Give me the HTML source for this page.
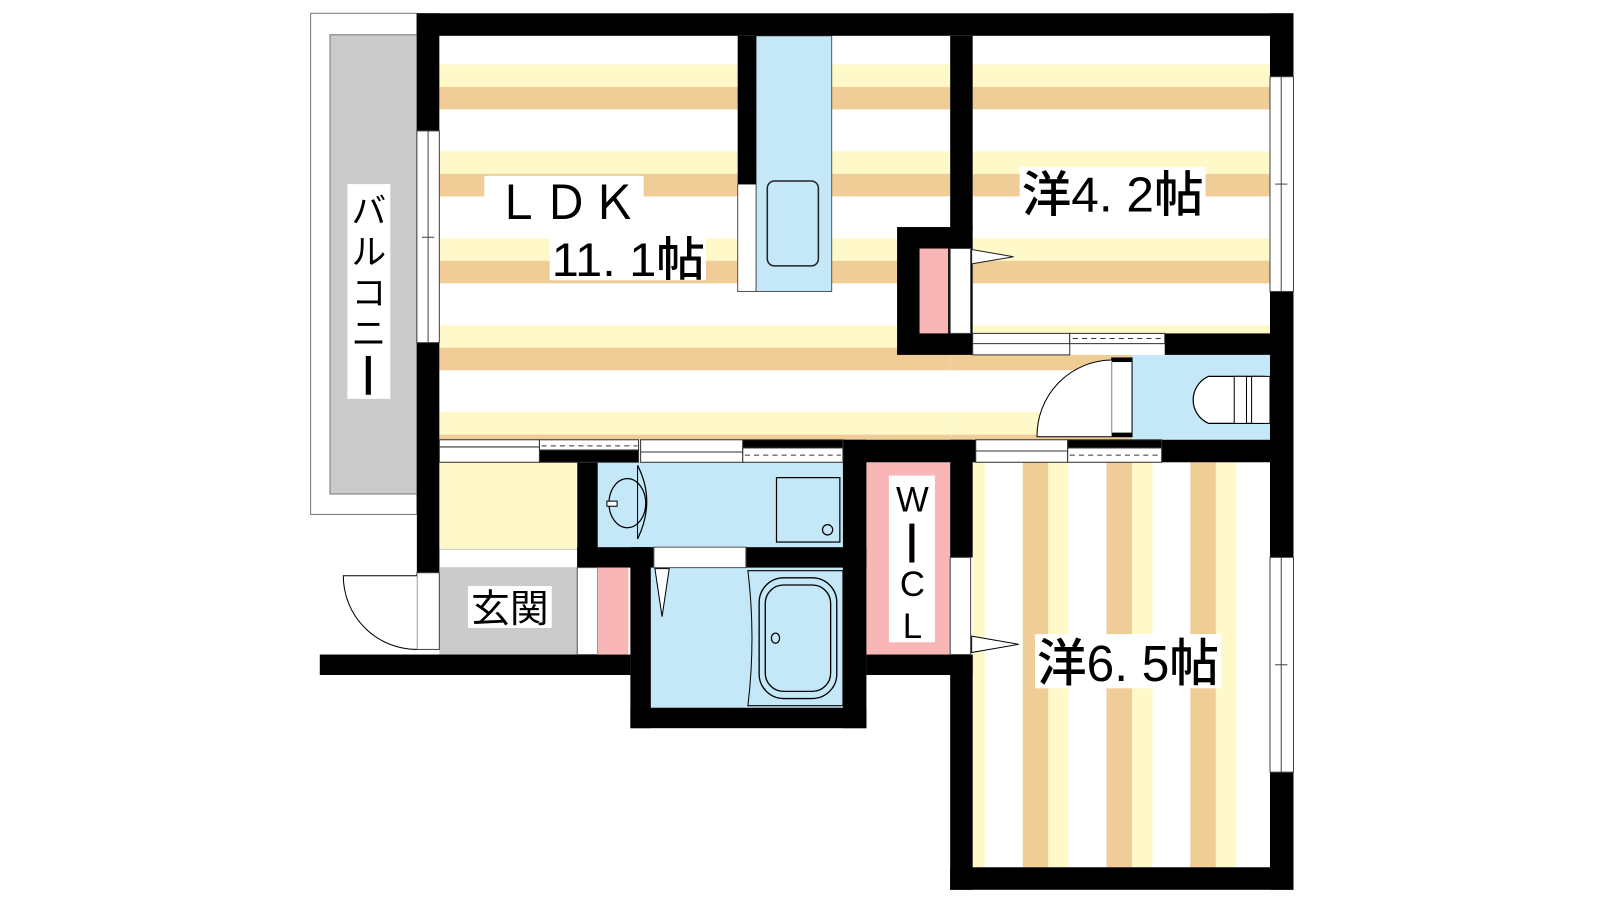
<!DOCTYPE html>
<html><head><meta charset="utf-8"><style>
html,body{margin:0;padding:0;background:#fff;width:1600px;height:900px;overflow:hidden}
svg{display:block}
text{font-family:"Liberation Sans","Noto Sans CJK JP",sans-serif;fill:#000}
</style></head><body>
<svg width="1600" height="900" viewBox="0 0 1566 880" preserveAspectRatio="none" xmlns="http://www.w3.org/2000/svg">
<defs>
<pattern id="h" patternUnits="userSpaceOnUse" x="0" y="63" width="20" height="85">
<rect width="20" height="85" fill="#fff"/><rect y="0" width="20" height="22" fill="#fff8c8"/><rect y="22" width="20" height="22" fill="#f0cd96"/>
</pattern>
<pattern id="v" patternUnits="userSpaceOnUse" x="1001" y="0" width="82" height="20">
<rect width="82" height="20" fill="#fff"/><rect x="0" width="25" height="20" fill="#f0cd96"/><rect x="25" width="20" height="20" fill="#fff8c8"/>
</pattern>
</defs>
<!-- balcony -->
<rect x="304" y="13" width="104" height="490" fill="#fff" stroke="#777" stroke-width="1"/>
<rect x="323" y="34" width="85" height="449" fill="#cbcbcb" stroke="#777" stroke-width="1"/>
<rect x="340" y="180" width="42" height="210" fill="#fff"/>
<text x="361" y="218" font-size="34" text-anchor="middle">バ</text>
<text x="361" y="258" font-size="34" text-anchor="middle">ル</text>
<text x="361" y="298" font-size="34" text-anchor="middle">コ</text>
<text x="361" y="338" font-size="34" text-anchor="middle">ニ</text>
<rect x="358" y="348" width="5" height="38" fill="#000"/>

<!-- floors -->
<rect x="430" y="35" width="500" height="395" fill="url(#h)"/>
<rect x="930" y="347" width="178" height="83" fill="url(#h)"/>
<rect x="952" y="35" width="291" height="291" fill="url(#h)"/>
<rect x="952" y="452" width="291" height="396" fill="url(#v)"/>
<rect x="430" y="452" width="135" height="85" fill="#fff8c8"/>
<rect x="430" y="537" width="135" height="18" fill="#fff" stroke="#999" stroke-width="0.5"/>
<rect x="430" y="555" width="135" height="85" fill="#cbcbcb"/>
<rect x="585" y="452" width="240" height="83" fill="#c4e8f8"/>
<rect x="637" y="555" width="188" height="137" fill="#c4e8f8"/>
<rect x="848" y="452" width="82" height="188" fill="#f8b6b6"/>
<rect x="1108" y="347" width="135" height="83" fill="#c4e8f8"/>

<!-- kitchen -->
<rect x="740" y="35" width="74" height="250" fill="#c4e8f8" stroke="#555" stroke-width="1"/>
<rect x="722" y="180" width="18" height="105" fill="#fff" stroke="#555" stroke-width="1"/>
<rect x="751" y="177" width="50" height="83" rx="7" fill="none" stroke="#222" stroke-width="1.5"/>

<!-- walls -->
<g fill="#000">
<rect x="408" y="13" width="858" height="22"/>
<rect x="408" y="13" width="22" height="115"/>
<rect x="408" y="335" width="22" height="225"/>
<rect x="313" y="640" width="304" height="20"/>
<rect x="722" y="35" width="18" height="145"/>
<rect x="930" y="35" width="22" height="190"/>
<rect x="878" y="222" width="74" height="125"/>
<rect x="1140" y="326" width="126" height="21"/>
<rect x="1243" y="13" width="23" height="62"/>
<rect x="1243" y="285" width="23" height="260"/>
<rect x="1243" y="755" width="23" height="115"/>
<rect x="825" y="430" width="130" height="22"/>
<rect x="1137" y="430" width="129" height="22"/>
<rect x="565" y="452" width="20" height="103"/>
<rect x="565" y="535" width="75" height="20"/>
<rect x="730" y="535" width="118" height="20"/>
<rect x="617" y="535" width="20" height="177"/>
<rect x="617" y="692" width="231" height="20"/>
<rect x="825" y="430" width="23" height="282"/>
<rect x="848" y="640" width="104" height="20"/>
<rect x="930" y="430" width="22" height="115"/>
<rect x="930" y="640" width="22" height="230"/>
<rect x="930" y="848" width="336" height="22"/>
</g>
<!-- closet in 4.2 -->
<rect x="900" y="243" width="28" height="83" fill="#f8b6b6"/>
<rect x="930" y="243" width="20" height="83" fill="#fff" stroke="#444" stroke-width="1"/>
<polygon points="951,244 992,251 951,258" fill="#fff" stroke="#222" stroke-width="1"/>

<!-- windows -->
<g fill="#fff" stroke="#444" stroke-width="1">
<rect x="408" y="128" width="22" height="207"/>
<rect x="1243" y="75" width="23" height="210"/>
<rect x="1243" y="545" width="23" height="210"/>
</g>
<g stroke="#444" stroke-width="1">
<line x1="419" y1="128" x2="419" y2="335"/><line x1="413" y1="232" x2="425" y2="232"/>
<line x1="1254" y1="75" x2="1254" y2="285"/><line x1="1248" y1="180" x2="1260" y2="180"/>
<line x1="1254" y1="545" x2="1254" y2="755"/><line x1="1248" y1="650" x2="1260" y2="650"/>
</g>

<!-- sliding doors -->
<g stroke="#333" stroke-width="1">
<rect x="952" y="326" width="95" height="21" fill="#fff"/><line x1="952" y1="336" x2="1047" y2="336"/>
<rect x="1047" y="326" width="93" height="10" fill="#fff"/><line x1="1050" y1="331" x2="1138" y2="331" stroke-dasharray="5,4"/>
<rect x="430" y="430" width="98" height="22" fill="#fff"/><line x1="430" y1="437" x2="528" y2="437"/>
<rect x="528" y="430" width="97" height="10" fill="#fff"/><line x1="530" y1="436" x2="624" y2="436" stroke-dasharray="5,4"/>
<rect x="528" y="440" width="97" height="12" fill="#000"/>
<rect x="627" y="430" width="100" height="22" fill="#fff"/><line x1="627" y1="442" x2="727" y2="442"/>
<rect x="727" y="430" width="98" height="14" fill="#000"/>
<rect x="727" y="438" width="98" height="14" fill="#fff"/><line x1="729" y1="445" x2="823" y2="445" stroke-dasharray="5,4"/>
<rect x="955" y="430" width="90" height="22" fill="#fff"/><line x1="955" y1="441" x2="1045" y2="441"/>
<rect x="1045" y="430" width="92" height="8" fill="#000"/>
<rect x="1045" y="438" width="92" height="14" fill="#fff"/><line x1="1047" y1="445" x2="1135" y2="445" stroke-dasharray="5,4"/>
</g>

<!-- toilet door -->
<rect x="1088" y="350" width="20" height="77" fill="#fff" stroke="#000" stroke-width="1"/>
<rect x="1088" y="350" width="20" height="4" fill="#000"/><rect x="1088" y="423" width="20" height="4" fill="#000"/>
<path d="M1088,352 A74,74 0 0 0 1015,427 L1088,427" fill="#fff" stroke="#000" stroke-width="1"/>
<path d="M1237,368 L1183,368 A25,25 0 0 0 1183,414 L1237,414 Z" fill="#fff" stroke="#000" stroke-width="1.2"/>
<rect x="1208" y="368" width="12" height="46" fill="#fff" stroke="#000" stroke-width="1"/>
<rect x="1225" y="368" width="18" height="46" fill="#fff" stroke="#000" stroke-width="1"/>

<!-- washroom -->
<path d="M624,455 Q642,490 624,527" fill="none" stroke="#000" stroke-width="1.2"/>
<line x1="624" y1="455" x2="624" y2="527" stroke="#000" stroke-width="1"/>
<ellipse cx="614" cy="492" rx="18" ry="24" fill="none" stroke="#000" stroke-width="1.2"/>
<rect x="594" y="490" width="10" height="5" fill="#fff" stroke="#000" stroke-width="1"/>
<rect x="760" y="467" width="62" height="63" fill="none" stroke="#000" stroke-width="1.2"/>
<circle cx="810" cy="518" r="5" fill="none" stroke="#000" stroke-width="1.2"/>

<!-- bath -->
<rect x="640" y="535" width="90" height="20" fill="#fff" stroke="#555" stroke-width="1"/>
<polygon points="641,556 655,556 648,603" fill="#fff" stroke="#000" stroke-width="1"/>
<path d="M732,558 L825,558 L825,690 L732,690 Q740,624 732,558 Z" fill="#c4e8f8" stroke="#000" stroke-width="1"/>
<rect x="743" y="565" width="76" height="118" rx="24" fill="none" stroke="#000" stroke-width="1.3"/>
<rect x="749" y="572" width="64" height="104" rx="18" fill="none" stroke="#000" stroke-width="1.3"/>
<ellipse cx="759" cy="624" rx="4" ry="5" fill="none" stroke="#000" stroke-width="1.2"/>

<!-- entrance -->
<rect x="565" y="555" width="20" height="85" fill="#fff" stroke="#555" stroke-width="1"/>
<rect x="585" y="555" width="30" height="85" fill="#f8b6b6"/>
<rect x="408" y="560" width="22" height="75" fill="#fff" stroke="#444" stroke-width="1"/>
<path d="M408,635 A72,72 0 0 1 336,563 L408,563" fill="#fff" stroke="#000" stroke-width="1"/>
<rect x="458" y="573" width="82" height="41" fill="#fff"/>
<text x="499" y="608" font-size="38" text-anchor="middle">玄関</text>

<!-- WIC -->
<rect x="930" y="545" width="20" height="95" fill="#fff" stroke="#444" stroke-width="1"/>
<polygon points="951,622 997,630 951,638" fill="#fff" stroke="#000" stroke-width="1"/>
<rect x="870" y="465" width="45" height="163" fill="#fff"/>
<text x="893" y="500" font-size="34" text-anchor="middle">W</text>
<rect x="890" y="512" width="5" height="38" fill="#000"/>
<text x="893" y="583" font-size="34" text-anchor="middle">C</text>
<text x="893" y="624" font-size="34" text-anchor="middle">L</text>

<!-- room labels -->
<rect x="474" y="172" width="156" height="42" fill="#fff"/>
<text x="484" y="214" font-size="46" textLength="140" lengthAdjust="spacing">ＬＤＫ</text>
<rect x="538" y="230" width="153" height="44" fill="#fff"/>
<text x="540" y="270" font-size="46" font-weight="500" textLength="150" lengthAdjust="spacingAndGlyphs">11. 1帖</text>
<rect x="998" y="163" width="182" height="49" fill="#fff"/>
<text x="1000" y="207" font-size="48" font-weight="500" textLength="178" lengthAdjust="spacingAndGlyphs">洋4. 2帖</text>
<rect x="1013" y="620" width="182" height="53" fill="#fff"/>
<text x="1015" y="666" font-size="50" font-weight="500" textLength="178" lengthAdjust="spacingAndGlyphs">洋6. 5帖</text>
</svg>
</body></html>
